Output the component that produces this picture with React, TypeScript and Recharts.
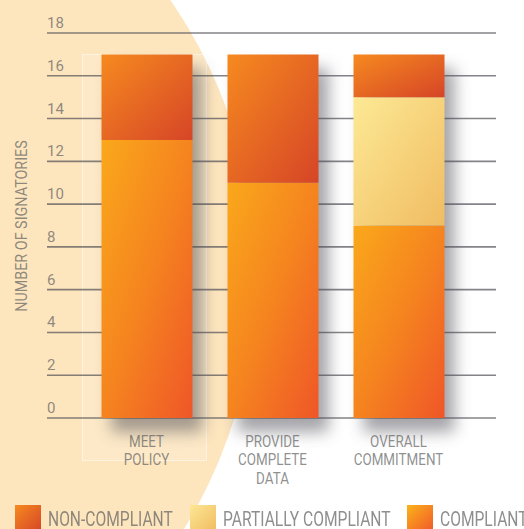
import React from "react";
import { BarChart, Bar, XAxis, YAxis, CartesianGrid, Label } from "recharts";

const categories = ["MEET POLICY", "PROVIDE COMPLETE DATA", "OVERALL COMMITMENT"];
const categoryLines = [["MEET", "POLICY"], ["PROVIDE", "COMPLETE", "DATA"], ["OVERALL", "COMMITMENT"]];
const compliant = [13, 11, 9];
const partiallyCompliant = [0, 0, 6];
const nonCompliant = [4, 6, 2];
const yTicks = [0, 2, 4, 6, 8, 10, 12, 14, 16, 18];
const legendLabels = ["NON-COMPLIANT", "PARTIALLY COMPLIANT", "COMPLIANT"];
const yAxisTitle = "NUMBER OF SIGNATORIES";

const data = categories.map((name, i) => ({
  name,
  compliant: compliant[i],
  partial: partiallyCompliant[i],
  non: nonCompliant[i],
}));

const FONT = "Roboto, 'Noto Sans', sans-serif";
const TEXT = "rgba(94,94,94,0.7)";

const YTick = (props: any) => {
  const { x, y, payload } = props;
  return (
    <text x={x} y={y - 5} textAnchor="start" fontFamily={FONT} fontSize={15} fill={TEXT}>
      {payload.value}
    </text>
  );
};

const XTick = (props: any) => {
  const { x, y, index } = props;
  const lines = categoryLines[index] || [];
  return (
    <g transform={`translate(${x},${y + 29}) scale(0.84,1)`}>
      {lines.map((l, k) => (
        <text key={k} x={0} y={k * 18.5} textAnchor="middle" fontFamily={FONT} fontSize={16} fill={TEXT}>
          {l}
        </text>
      ))}
    </g>
  );
};

const BottomShape = (props: any) => {
  const { x, y, width, height, payload, fill } = props;
  const total = payload.compliant + payload.partial + payload.non;
  const unit = height / payload.compliant;
  const full = unit * total;
  const top = y + height - full;
  return (
    <g>
      <rect x={x + 10} y={top + 14} width={width} height={full} fill="#4a4a52" opacity={0.5} filter="url(#shadowBlur)" />
      <rect x={x} y={y} width={width} height={height} fill={fill} />
    </g>
  );
};

const legendGrad = [
  ["#F68A1F", "#D64527"],
  ["#FDE794", "#F0BC62"],
  ["#FBB21A", "#F15A29"],
];
const legendLeft = [15, 190, 407];

export default function App() {
  return (
    <div style={{ position: "fixed", left: 0, top: 0, width: 524, height: 529, overflow: "hidden", background: "#fff" }}>
      <div
        style={{
          position: "absolute",
          left: -712,
          top: -209,
          width: 968,
          height: 968,
          borderRadius: "50%",
          background: "#FDE5BE",
        }}
      />
      <div
        style={{
          position: "absolute",
          left: 82,
          top: 54,
          width: 125,
          height: 407,
          background: "rgba(255,255,255,0.15)",
          border: "1px solid rgba(255,255,255,0.45)",
          boxSizing: "border-box",
        }}
      />
      <div style={{ position: "absolute", left: 0, top: 0 }}>
        <BarChart
          width={524}
          height={529}
          data={data}
          margin={{ top: 33, right: 28, left: 0, bottom: 41 }}
          barSize={91}
        >
          <defs>
            <linearGradient id="gNon" x1="0" y1="0" x2="1" y2="1">
              <stop offset="0%" stopColor="#F68A1F" />
              <stop offset="100%" stopColor="#D64527" />
            </linearGradient>
            <linearGradient id="gPart" x1="0" y1="0" x2="1" y2="1">
              <stop offset="0%" stopColor="#FDE995" />
              <stop offset="100%" stopColor="#F0BC62" />
            </linearGradient>
            <linearGradient id="gComp" x1="0" y1="0" x2="1" y2="1">
              <stop offset="0%" stopColor="#FAA81B" />
              <stop offset="50%" stopColor="#F5841F" />
              <stop offset="100%" stopColor="#EF5628" />
            </linearGradient>
            <filter id="shadowBlur" x="-50%" y="-20%" width="200%" height="140%">
              <feGaussianBlur stdDeviation="8" />
            </filter>
          </defs>
          <CartesianGrid vertical={false} stroke="rgba(80,80,85,0.7)" strokeWidth={1.6} />
          <XAxis
            dataKey="name"
            axisLine={false}
            tickLine={false}
            tickSize={0}
            tickMargin={0}
            interval={0}
            height={70}
            padding={{ left: 36.5, right: 34.5 }}
            tick={<XTick />}
          />
          <YAxis
            width={47}
            domain={[0, 18]}
            ticks={yTicks}
            axisLine={false}
            tickLine={false}
            tickSize={0}
            tickMargin={0}
            interval={0}
            tick={<YTick />}
          >
            <Label
              content={() => (
                <g transform="translate(27,226) rotate(-90) scale(0.87,1)">
                  <text x={0} y={0} textAnchor="middle" fontFamily={FONT} fontSize={16.5} fill={TEXT}>
                    {yAxisTitle}
                  </text>
                </g>
              )}
            />
          </YAxis>
          <Bar dataKey="compliant" stackId="a" fill="url(#gComp)" shape={<BottomShape />} isAnimationActive={false} />
          <Bar dataKey="partial" stackId="a" fill="url(#gPart)" isAnimationActive={false} />
          <Bar dataKey="non" stackId="a" fill="url(#gNon)" isAnimationActive={false} />
        </BarChart>
      </div>
      {legendLabels.map((lab, i) => (
        <div key={lab} style={{ position: "absolute", left: legendLeft[i], top: 505, height: 24 }}>
          <div
            style={{
              position: "absolute",
              left: 0,
              top: 0,
              width: 26,
              height: 26,
              background: `linear-gradient(135deg, ${legendGrad[i][0]}, ${legendGrad[i][1]})`,
            }}
          />
          <span
            style={{
              position: "absolute",
              left: 33,
              top: 8,
              whiteSpace: "nowrap",
              fontFamily: FONT,
              fontSize: 19.5,
              lineHeight: "14px",
              color: TEXT,
              display: "inline-block",
              transform: "scaleX(0.8)",
              transformOrigin: "left center",
            }}
          >
            {lab}
          </span>
        </div>
      ))}
    </div>
  );
}
